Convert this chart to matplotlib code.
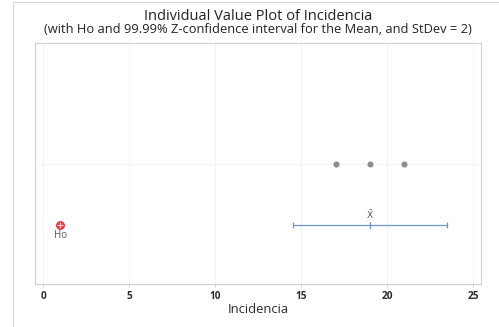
import numpy as np
import matplotlib.pyplot as plt
from matplotlib.patches import Rectangle

##### DATA #####
incidencia = [17, 19, 21]
ho_value = 1
stdev = 2
z_crit = 3.8906  # 99.99% two-sided
x_ticks = [0, 5, 10, 15, 20, 25]

TEXT = '#2b2b2b'
plt.rcParams['font.family'] = ['Open Sans', 'DejaVu Sans']

mean = np.mean(incidencia)
half = z_crit * stdev / np.sqrt(len(incidencia))

fig = plt.figure(figsize=(4.99, 3.27), dpi=100)
# outer frame of the graph window
fig.patches.append(Rectangle((13 / 499, -0.1), 1.2, 1 - 1.5 / 327 + 0.1,
                             transform=fig.transFigure, fill=False,
                             edgecolor='#d9d9d9', linewidth=0.8))

ax = fig.add_axes([35 / 499, 1 - 284 / 327, 446 / 499, 241 / 327])

ax.set_xlim(-0.48, 25.45)
ax.set_ylim(-0.97, 2.98)
for xt in x_ticks:
    ax.axvline(xt, color='#f0f0f0', linewidth=0.6, zorder=0)
ax.axhline(1, color='#f5f5f5', linewidth=0.6, zorder=0)

# individual values
ax.plot(incidencia, [1] * len(incidencia), 'o', color='#8e8e8e',
        markersize=4.4, markeredgewidth=0, zorder=3)

# confidence interval for the mean
ci_color = '#6f96c8'
ax.errorbar([mean], [0], xerr=[[half], [half]], fmt='none', ecolor=ci_color,
            elinewidth=0.9, capsize=2.5, capthick=0.9, zorder=3)
ax.plot([mean, mean], [-0.045, 0.045], color=ci_color, linewidth=0.9)
ax.annotate(r'$\bar{\mathrm{X}}$', (mean, 0), xytext=(0, 2.5),
            textcoords='offset points', ha='center', va='bottom',
            fontsize=6.5, color='#555555')

# hypothesized mean
ax.plot([ho_value], [0], 'o', markersize=5.5, markerfacecolor='#f04a4f',
        markeredgecolor='#e0262b', markeredgewidth=0.8, zorder=4)
ax.plot([ho_value], [0], '+', markersize=4, color='#ffd0d0',
        markeredgewidth=0.7, zorder=5)
ax.annotate('Ho', (ho_value, 0), xytext=(0, -3.5), textcoords='offset points',
            ha='center', va='top', fontsize=7, color='#555555')

ax.set_xticks(x_ticks)
ax.set_yticks([])
ax.tick_params(axis='x', length=2.5, width=0.6, color='#cccccc', pad=2.5,
               labelsize=7.2, labelcolor=TEXT)
for lbl in ax.get_xticklabels():
    lbl.set_fontweight('bold')
for s in ax.spines.values():
    s.set_color('#d0d0d0')
    s.set_linewidth(0.8)

ax.set_xlabel('Incidencia', fontsize=9.4, color=TEXT, labelpad=1)

fig.text(258 / 499, 1 - 20 / 327, 'Individual Value Plot of Incidencia',
         ha='center', va='baseline', fontsize=10.5, color='#222222')
fig.text(258 / 499, 1 - 33 / 327,
         '(with Ho and 99.99% Z-confidence interval for the Mean, and StDev = 2)',
         ha='center', va='baseline', fontsize=9.3, color='#222222')

fig.savefig('out.png', dpi=100)
